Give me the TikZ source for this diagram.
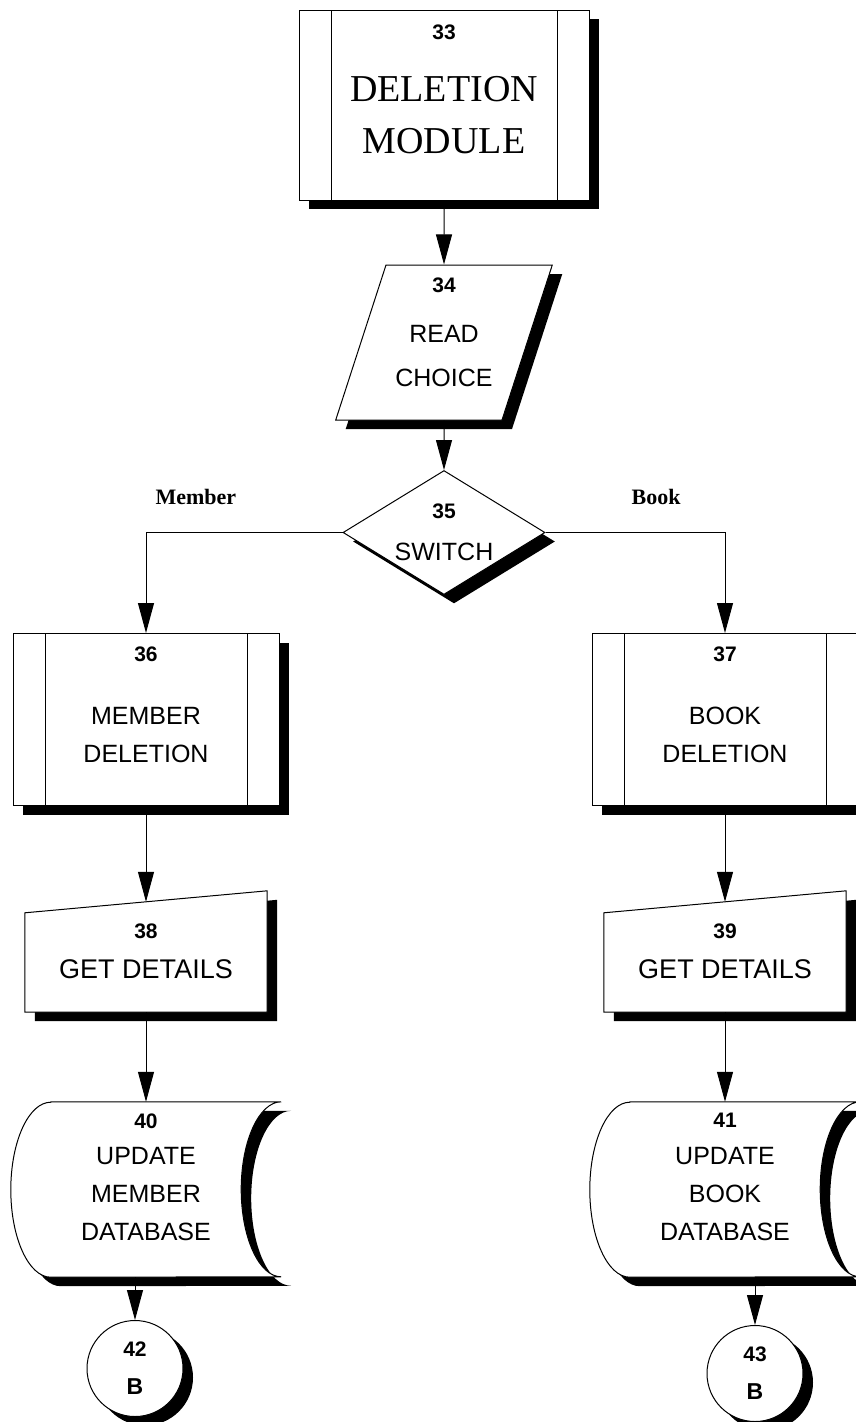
\documentclass[tikz,border=0pt]{standalone}
\usepackage{fontspec}
\setmainfont{Liberation Serif}
\newfontfamily\numfont{Liberation Sans}
\newfontfamily\capfont{Liberation Sans}
\usetikzlibrary{shapes.geometric, arrows.meta, shadows, backgrounds}

\newcommand{\nr}[1]{{\numfont\bfseries\fontsize{21}{21}\selectfont #1}}

\tikzstyle{dropshade} = [drop shadow={shadow xshift=10pt, shadow yshift=-9pt, fill=black, opacity=1}]
\tikzstyle{subproc} = [rectangle, minimum width=266pt, minimum height=172pt, align=center, draw=black, line width=1pt, fill=white, dropshade, path picture={
  \draw ([xshift=32pt]path picture bounding box.north west) -- ([xshift=32pt]path picture bounding box.south west);
  \draw ([xshift=-32pt]path picture bounding box.north east) -- ([xshift=-32pt]path picture bounding box.south east);}]
\tikzstyle{io} = [trapezium, trapezium left angle=72, trapezium right angle=108, minimum width=217pt, minimum height=141pt, inner sep=0pt, align=center, draw=black, line width=1pt, fill=white, dropshade]
\tikzstyle{decision} = [diamond, aspect=1.6, minimum width=202pt, minimum height=124pt, inner sep=0pt, align=center, draw=black, line width=1pt, fill=white, dropshade]
\tikzstyle{manual} = [rectangle, minimum width=242pt, minimum height=121pt, align=center, font=\capfont\fontsize{27}{38}\selectfont]
\tikzstyle{stored} = [rectangle, minimum width=270pt, minimum height=175pt, align=center]
\tikzstyle{connector} = [circle, minimum size=96pt, inner sep=0pt, align=center, draw=black, line width=1pt, fill=white, dropshade]
\tikzstyle{outline} = [draw=black, line width=1pt, fill=white, dropshade]
\tikzstyle{branch} = [font=\bfseries\fontsize{22}{22}\selectfont]
\tikzstyle{arrow} = [line width=1pt, ->, >={Triangle[length=30pt, width=16pt]}]

\begin{document}
\begin{tikzpicture}[x=1pt, y=-1pt, node distance=190pt, font=\capfont\fontsize{25}{38}\selectfont]
\useasboundingbox (0,0) rectangle (856,1422);

\node (start) [subproc, minimum width=290pt, minimum height=190pt, font=\fontsize{38}{52}\selectfont] at (444,105) {\nr{33}\\[10pt] DELETION\\ MODULE\rule[-31pt]{0pt}{0pt}};

\node (in1) [io, below of=start, yshift=-47.5pt, font=\capfont\fontsize{25}{44}\selectfont] {\nr{34}\\[6pt] READ\\ CHOICE\rule[-21pt]{0pt}{0pt}};

\node (dec1) [decision, below of=in1] {\nr{35}\\[3.5pt] SWITCH};

\node (pro1) [subproc, below of=dec1, xshift=-298pt, yshift=3pt] {\nr{36}\\[25.5pt] MEMBER\\ DELETION\rule[-30pt]{0pt}{0pt}};
\node (pro2) [subproc, below of=dec1, xshift=281pt, yshift=3pt] {\nr{37}\\[25.5pt] BOOK\\ DELETION\rule[-30pt]{0pt}{0pt}};

\node (in2) [manual, below of=pro1, yshift=-42pt] {\nr{38}\\[1.5pt] GET DETAILS};
\node (in3) [manual, below of=pro2, yshift=-42pt] {\nr{39}\\[1.5pt] GET DETAILS};

\node (db1) [stored, below of=in2, yshift=-48pt] {\nr{40}\\[-1.5pt] UPDATE\\ MEMBER\\ DATABASE\rule[-25pt]{0pt}{0pt}};
\node (db2) [stored, below of=in3, yshift=-48pt] {\nr{41}\\[-1.5pt] UPDATE\\ BOOK\\ DATABASE\rule[-25pt]{0pt}{0pt}};

\node (c1) [connector, below of=db1, xshift=-11pt, yshift=11pt] {\nr{42}\\ {\numfont\bfseries\fontsize{23}{23}\selectfont B}};
\node (c2) [connector, below of=db2, xshift=30pt, yshift=6pt] {\nr{43}\\ {\numfont\bfseries\fontsize{23}{23}\selectfont B}};

% outlines of the manual input and stored data boxes
\begin{scope}[on background layer]
\draw [outline] ([yshift=-22pt]in2.north west) -- (in2.north east) -- (in2.south east) -- (in2.south west) -- cycle;
\draw [outline] ([yshift=-22pt]in3.north west) -- (in3.north east) -- (in3.south east) -- (in3.south west) -- cycle;
\draw [outline] ([xshift=40pt]db1.north west) -- (db1.north east) arc [start angle=90, end angle=270, x radius=40pt, y radius=87.5pt] -- ([xshift=40pt]db1.south west) arc [start angle=270, end angle=90, x radius=40pt, y radius=87.5pt] -- cycle;
\draw [outline] ([xshift=40pt]db2.north west) -- (db2.north east) arc [start angle=90, end angle=270, x radius=40pt, y radius=87.5pt] -- ([xshift=40pt]db2.south west) arc [start angle=270, end angle=90, x radius=40pt, y radius=87.5pt] -- cycle;
\end{scope}

\draw [arrow] (start) -- (in1);
\draw [arrow] (in1) -- (dec1);
\draw [arrow] (dec1.west) -| node[branch, pos=0.373, yshift=36pt] {Member} (pro1.north);
\draw [arrow] (dec1.east) -| node[branch, pos=0.308, yshift=36pt] {Book} (pro2.north);
\draw [arrow] (pro1.south) -- ([yshift=-11pt]in2.north);
\draw [arrow] (pro2.south) -- ([yshift=-11pt]in3.north);
\draw [arrow] (in2.south) -- (db1.north);
\draw [arrow] (in3.south) -- (db2.north);
\draw [arrow] (db1.south -| c1.north) -- (c1.north);
\draw [arrow] (db2.south -| c2.north) -- (c2.north);

\end{tikzpicture}
\end{document}
